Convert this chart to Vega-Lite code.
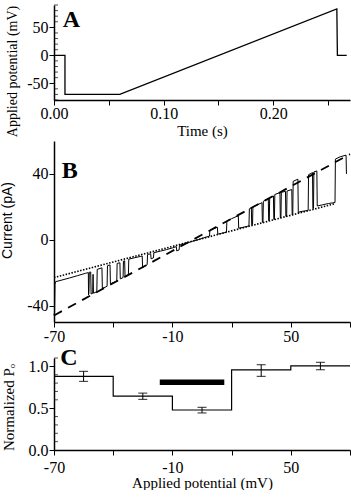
{
  "$schema": "https://vega.github.io/schema/vega-lite/v6.json",
  "background": "white",
  "padding": {"left": 0, "top": 4, "right": 0, "bottom": 0},
  "spacing": 2,
  "config": {
    "view": {"stroke": null},
    "axis": {
      "grid": false,
      "labelFont": "Liberation Serif",
      "titleFont": "Liberation Serif",
      "labelFontSize": 16,
      "titleFontSize": 15,
      "titleFontWeight": "normal",
      "labelColor": "black",
      "titleColor": "black",
      "domainColor": "black",
      "tickColor": "black",
      "domainWidth": 1.5,
      "tickWidth": 1,
      "tickSize": 5,
      "labelPadding": 2,
      "labelOverlap": false
    }
  },
  "vconcat": [
    {
      "width": 296,
      "height": 95,
      "layer": [
        {
          "data": {"values": [
            {"k": 1, "t": 0, "v": 0},
            {"k": 2, "t": 0.01, "v": 0},
            {"k": 3, "t": 0.01, "v": -70},
            {"k": 4, "t": 0.06, "v": -70},
            {"k": 5, "t": 0.258, "v": 83},
            {"k": 6, "t": 0.2585, "v": 0},
            {"k": 7, "t": 0.267, "v": 0}
          ]},
          "mark": {"type": "line", "color": "black", "strokeWidth": 1.3},
          "encoding": {
            "x": {"field": "t", "type": "quantitative", "scale": {"domain": [0, 0.27], "nice": false},
              "axis": {"title": "Time (s)", "values": [0, 0.05, 0.1, 0.15, 0.2, 0.25],
                "labelExpr": "abs(datum.value*10 - round(datum.value*10)) < 0.001 ? format(datum.value, '.2f') : ''",
                "labelPadding": 0, "titlePadding": 2.5, "labelFlush": false}},
            "y": {"field": "v", "type": "quantitative", "scale": {"domain": [-80, 90], "nice": false},
              "axis": {"title": "Applied potential (mV)", "titleFontSize": 14,
                "values": [-50, 0, 50],
                "labelExpr": "replace(datum.label, '−', '-')",
                "labelPadding": 1,
                "titleX": -35, "titleY": 66}},
            "order": {"field": "k", "type": "quantitative"}
          }
        },
        {
          "data": {"values": [
            {"m": -80}, {"m": -70}, {"m": -60}, {"m": -40}, {"m": -30}, {"m": -20}, {"m": -10},
            {"m": 10}, {"m": 20}, {"m": 30}, {"m": 40}, {"m": 60}, {"m": 70}, {"m": 80}, {"m": 90}
          ]},
          "mark": {"type": "tick", "orient": "horizontal", "color": "black", "size": 4, "thickness": 1, "xOffset": 2},
          "encoding": {
            "x": {"datum": 0, "type": "quantitative"},
            "y": {"field": "m", "type": "quantitative"}
          }
        },
        {
          "data": {"values": [{"t": 0.016, "v": 64, "lab": "A"}]},
          "mark": {"type": "text", "font": "Liberation Serif", "fontWeight": "bold", "fontSize": 24, "color": "black"},
          "encoding": {
            "x": {"field": "t", "type": "quantitative"},
            "y": {"field": "v", "type": "quantitative"},
            "text": {"field": "lab"}
          }
        }
      ]
    },
    {
      "width": 296,
      "height": 181,
      "layer": [
        {
          "mark": {"type": "rule", "color": "black", "strokeWidth": 1.5},
          "encoding": {"y": {"datum": 0, "type": "quantitative"}}
        },
        {
          "data": {"values": [{"V": -70, "I": -23}, {"V": 72, "I": 21.8}]},
          "mark": {"type": "line", "color": "black", "strokeWidth": 1.6, "strokeDash": [1.5, 1.5]},
          "encoding": {
            "x": {"field": "V", "type": "quantitative"},
            "y": {"field": "I", "type": "quantitative"}
          }
        },
        {
          "data": {"values": [{"V": -70, "I": -46}, {"V": 80, "I": 52}]},
          "mark": {"type": "line", "color": "black", "strokeWidth": 1.8, "strokeDash": [9, 7]},
          "encoding": {
            "x": {"field": "V", "type": "quantitative"},
            "y": {"field": "I", "type": "quantitative"}
          }
        },
        {
          "data": {"values": [
            {"V": -70, "I": -46}, {"V": -69.7, "I": -44}, {"V": -69.5, "I": -27}, {"V": -69.2, "I": -25.5},
            {"V": -66, "I": -24.5}, {"V": -62, "I": -23.2}, {"V": -58, "I": -21.8}, {"V": -54, "I": -20.4},
            {"V": -52.6, "I": -20}, {"V": -52.5, "I": -33.5}, {"V": -52.3, "I": -32}, {"V": -52.1, "I": -19.8},
            {"V": -51.4, "I": -19.6}, {"V": -51.2, "I": -33}, {"V": -50.4, "I": -32.6}, {"V": -50.2, "I": -21},
            {"V": -50, "I": -32.5}, {"V": -48.3, "I": -31.6}, {"V": -48.1, "I": -18}, {"V": -46, "I": -17.2},
            {"V": -45.7, "I": -17}, {"V": -45.5, "I": -29.6}, {"V": -43.1, "I": -28.3}, {"V": -42.9, "I": -15.8},
            {"V": -41.6, "I": -15.3}, {"V": -41.4, "I": -26.8}, {"V": -38.2, "I": -25.1}, {"V": -38, "I": -14.4},
            {"V": -36.6, "I": -14}, {"V": -36.4, "I": -23.8}, {"V": -35, "I": -23}, {"V": -34.8, "I": -13},
            {"V": -34.2, "I": -12.8}, {"V": -34, "I": -22.5}, {"V": -32.3, "I": -21.3}, {"V": -32.1, "I": -11.8},
            {"V": -29, "I": -10.9}, {"V": -26, "I": -10.1}, {"V": -25.3, "I": -9.9}, {"V": -25.1, "I": -17},
            {"V": -22.8, "I": -15.2}, {"V": -22.6, "I": -9}, {"V": -21, "I": -8.5}, {"V": -20.8, "I": -11.6},
            {"V": -19.6, "I": -11}, {"V": -19.4, "I": -7.9}, {"V": -16, "I": -6.9}, {"V": -13, "I": -6},
            {"V": -10, "I": -5}, {"V": -8, "I": -4.2}, {"V": -7.8, "I": -6.8}, {"V": -6.6, "I": -6.2},
            {"V": -6.4, "I": -3.3}, {"V": -3, "I": -2.2}, {"V": 0, "I": -1}, {"V": 3, "I": 0},
            {"V": 6, "I": 1.2}, {"V": 8.8, "I": 2.2}, {"V": 9, "I": 5.6}, {"V": 10.5, "I": 6.6},
            {"V": 12.8, "I": 7.6}, {"V": 13, "I": 3.4}, {"V": 15, "I": 3.9}, {"V": 17.4, "I": 4.6},
            {"V": 17.6, "I": 11.4}, {"V": 20, "I": 12.8}, {"V": 23.4, "I": 14.6}, {"V": 23.6, "I": 7},
            {"V": 26, "I": 7.6}, {"V": 28.8, "I": 8.4}, {"V": 29, "I": 18.8}, {"V": 30, "I": 19.4},
            {"V": 30.2, "I": 9}, {"V": 30.6, "I": 9.2}, {"V": 30.8, "I": 20}, {"V": 33, "I": 21.2},
            {"V": 35.4, "I": 22.5}, {"V": 35.6, "I": 10.6}, {"V": 35.9, "I": 10.8}, {"V": 36.1, "I": 23.4},
            {"V": 38.6, "I": 25}, {"V": 38.8, "I": 11.6}, {"V": 39.1, "I": 11.7}, {"V": 39.3, "I": 25.4},
            {"V": 41.2, "I": 26.6}, {"V": 41.4, "I": 12.3}, {"V": 41.7, "I": 12.4}, {"V": 41.9, "I": 27.5},
            {"V": 44.5, "I": 28.6}, {"V": 44.7, "I": 13.3}, {"V": 45, "I": 13.4}, {"V": 45.2, "I": 28.8},
            {"V": 47.3, "I": 29.4}, {"V": 47.5, "I": 14.2}, {"V": 47.9, "I": 14.3}, {"V": 48.1, "I": 29.6},
            {"V": 50.5, "I": 30.5}, {"V": 50.7, "I": 15.1}, {"V": 51, "I": 15.2}, {"V": 51.2, "I": 35.5},
            {"V": 53.6, "I": 36.8}, {"V": 53.8, "I": 16.3}, {"V": 54.2, "I": 16.4}, {"V": 54.4, "I": 17},
            {"V": 58.8, "I": 17.8}, {"V": 59, "I": 39.5}, {"V": 61, "I": 40.8}, {"V": 61.2, "I": 19},
            {"V": 61.5, "I": 19}, {"V": 61.7, "I": 41.2}, {"V": 63.2, "I": 41.8}, {"V": 63.4, "I": 20.5},
            {"V": 66, "I": 21.2}, {"V": 69, "I": 22}, {"V": 72.4, "I": 22.6}, {"V": 72.6, "I": 49},
            {"V": 75, "I": 50.4}, {"V": 78, "I": 51.4}, {"V": 78.2, "I": 40}
          ]},
          "mark": {"type": "line", "color": "black", "strokeWidth": 1},
          "encoding": {
            "x": {"field": "V", "type": "quantitative", "scale": {"domain": [-70, 80], "nice": false},
              "axis": {"title": null, "values": [-70, -40, -10, 20, 50, 80],
                "labelExpr": "(datum.value == -70 || datum.value == -10 || datum.value == 50) ? replace(datum.label, '−', '-') : ''",
                "labelPadding": 1, "labelFlush": false}},
            "y": {"field": "I", "type": "quantitative", "scale": {"domain": [-50, 60], "nice": false},
              "axis": {"title": "Current (pA)", "titleFont": "Liberation Sans", "titleFontSize": 14,
                "values": [-40, -20, 0, 20, 40, 60],
                "labelExpr": "(datum.value == -40 || datum.value == 0 || datum.value == 40) ? replace(datum.label, '−', '-') : ''",
                "labelPadding": 1,
                "titleX": -40, "titleY": 79}}
          }
        },
        {
          "data": {"values": [{"V": -62, "I": 42, "lab": "B"}]},
          "mark": {"type": "text", "font": "Liberation Serif", "fontWeight": "bold", "fontSize": 24, "color": "black"},
          "encoding": {
            "x": {"field": "V", "type": "quantitative"},
            "y": {"field": "I", "type": "quantitative"},
            "text": {"field": "lab"}
          }
        }
      ]
    },
    {
      "width": 296,
      "height": 92,
      "layer": [
        {
          "data": {"values": [
            {"V": -70, "P": 0.88}, {"V": -40, "P": 0.645}, {"V": -10, "P": 0.478},
            {"V": 20, "P": 0.958}, {"V": 50, "P": 1.005}, {"V": 80, "P": 1.005}
          ]},
          "mark": {"type": "line", "color": "black", "strokeWidth": 1.2, "interpolate": "step-after"},
          "encoding": {
            "x": {"field": "V", "type": "quantitative", "scale": {"domain": [-70, 80], "nice": false},
              "axis": {"title": "Applied potential (mV)", "values": [-70, -40, -10, 20, 50, 80],
                "labelExpr": "(datum.value == -70 || datum.value == -10 || datum.value == 50) ? replace(datum.label, '−', '-') : ''",
                "labelPadding": 4, "labelFlush": false, "titlePadding": 0}},
            "y": {"field": "P", "type": "quantitative", "scale": {"domain": [0, 1.1], "nice": false},
              "axis": {"title": "Normalized Pₒ",
                "values": [0, 0.5, 1.0],
                "format": ".1f",
                "labelPadding": 1,
                "titleX": -38, "titleY": 49}}
          }
        },
        {
          "data": {"values": [
            {"m": 0.1}, {"m": 0.2}, {"m": 0.3}, {"m": 0.4}, {"m": 0.6}, {"m": 0.7}, {"m": 0.8}, {"m": 0.9}, {"m": 1.1}
          ]},
          "mark": {"type": "tick", "orient": "horizontal", "color": "black", "size": 4, "thickness": 1, "xOffset": 2},
          "encoding": {
            "x": {"datum": -70, "type": "quantitative"},
            "y": {"field": "m", "type": "quantitative"}
          }
        },
        {
          "data": {"values": [
            {"V": -55, "lo": 0.82, "hi": 0.94},
            {"V": -25, "lo": 0.605, "hi": 0.68},
            {"V": 5, "lo": 0.443, "hi": 0.51},
            {"V": 35, "lo": 0.88, "hi": 1.02},
            {"V": 65, "lo": 0.96, "hi": 1.048}
          ]},
          "layer": [
            {
              "mark": {"type": "rule", "color": "black", "strokeWidth": 1},
              "encoding": {
                "x": {"field": "V", "type": "quantitative"},
                "y": {"field": "lo", "type": "quantitative"},
                "y2": {"field": "hi"}
              }
            },
            {
              "mark": {"type": "tick", "orient": "horizontal", "color": "black", "size": 9, "thickness": 1.2},
              "encoding": {
                "x": {"field": "V", "type": "quantitative"},
                "y": {"field": "lo", "type": "quantitative"}
              }
            },
            {
              "mark": {"type": "tick", "orient": "horizontal", "color": "black", "size": 9, "thickness": 1.2},
              "encoding": {
                "x": {"field": "V", "type": "quantitative"},
                "y": {"field": "hi", "type": "quantitative"}
              }
            }
          ]
        },
        {
          "data": {"values": [{"a": -16.4, "b": 16.3, "P": 0.81}]},
          "mark": {"type": "rule", "color": "black", "strokeWidth": 5.5, "strokeCap": "butt"},
          "encoding": {
            "x": {"field": "a", "type": "quantitative"},
            "x2": {"field": "b"},
            "y": {"field": "P", "type": "quantitative"}
          }
        },
        {
          "data": {"values": [{"V": -62.4, "P": 1.1, "lab": "C"}]},
          "mark": {"type": "text", "font": "Liberation Serif", "fontWeight": "bold", "fontSize": 24, "color": "black"},
          "encoding": {
            "x": {"field": "V", "type": "quantitative"},
            "y": {"field": "P", "type": "quantitative"},
            "text": {"field": "lab"}
          }
        }
      ]
    }
  ]
}
